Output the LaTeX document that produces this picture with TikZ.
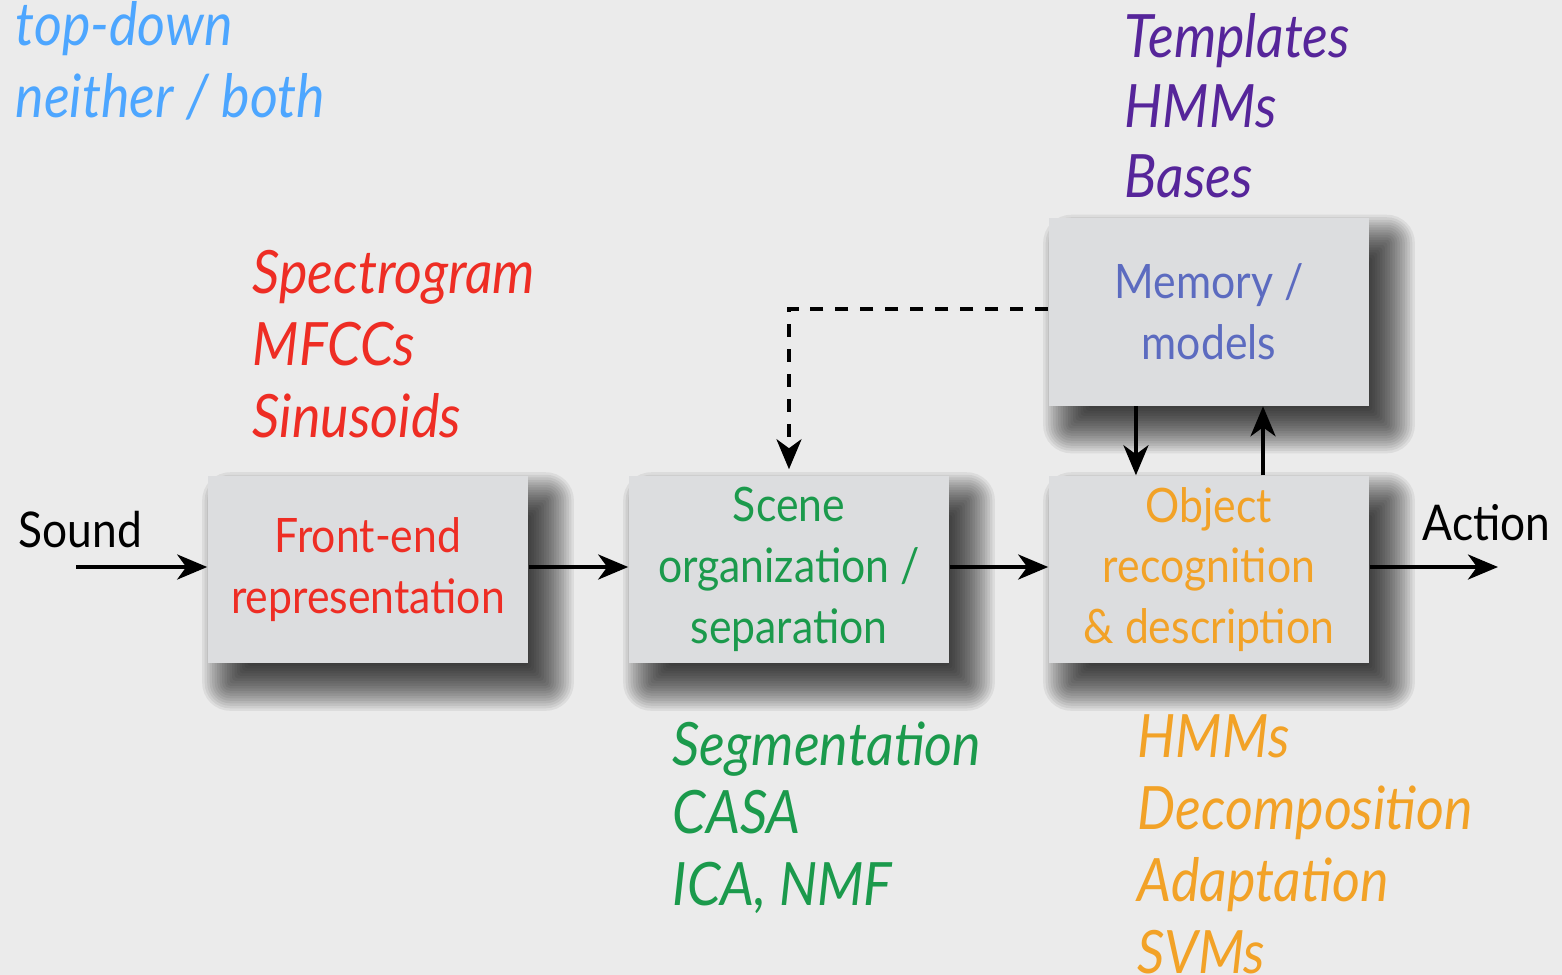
\documentclass[tikz,border=0pt]{standalone}
\usepackage{fontspec}
\setmainfont{Lato}[FakeStretch=0.9]
\usetikzlibrary{arrows.meta,backgrounds}
\definecolor{bggray}{HTML}{EBEBEB}
\definecolor{boxgray}{HTML}{DCDDDF}
\definecolor{frontred}{HTML}{EE2D24}
\definecolor{scenegreen}{HTML}{1B9A4C}
\definecolor{objorange}{HTML}{F2A227}
\definecolor{memblue}{HTML}{5C6BC0}
\definecolor{modpurple}{HTML}{56259A}
\definecolor{topblue}{HTML}{4DA6FF}
\newcommand{\blockShadow}[1]{
  \foreach \d [evaluate=\d as \nd using -\d, evaluate=\d as \rc using {max(\d,0)+0.03}] in {0.25,0.225,...,-0.26}
    \fill[black,opacity=0.062,rounded corners=\rc cm]
      ([xshift=0.2cm,yshift=-0.22cm,xshift=\nd cm,yshift=\d cm]#1.north west) rectangle
      ([xshift=0.2cm,yshift=-0.22cm,xshift=\d cm,yshift=\nd cm]#1.south east);
}

\begin{document}
\begin{tikzpicture}[x=0.01cm,y=-0.01cm,
  block/.style={fill=boxgray,rectangle,inner sep=0pt,minimum width=3.2cm,minimum height=1.87cm,
    align=center,font=\fontsize{13.5}{17.3}\selectfont},
  arr/.style={draw,line width=1.1pt,-{Stealth[length=0.3cm,width=0.25cm,inset=0.09cm]}},
  lst/.style={anchor=base west,inner sep=0pt,font=\fontsize{17}{20}\selectfont\itshape}]

  \useasboundingbox (0,0) rectangle (1562,975);

  %blocks
  \node[block,text=frontred]   (fe)    at (368,569.5)  {Front-end\\representation};
  \node[block,text=scenegreen] (scene) at (789,569.5)  {Scene\\organization /\\separation};
  \node[block,text=objorange]  (obj)   at (1209,569.5) {Object\\recognition\\\& description};
  \node[block,text=memblue]    (mem)   at (1209,312)   {Memory /\\models};

  %shadows
  \begin{pgfonlayer}{background}
    \fill[bggray] (0,0) rectangle (1562,975);
    \blockShadow{fe}
    \blockShadow{scene}
    \blockShadow{obj}
    \blockShadow{mem}
  \end{pgfonlayer}

  %in and out
  \node[anchor=base west,inner sep=0pt,font=\fontsize{14}{17}\selectfont] (snd) at (18,547) {Sound};
  \node[anchor=base west,inner sep=0pt,font=\fontsize{14}{17}\selectfont] (act) at (1422,540) {Action};
  \coordinate (in)  at (76,567);
  \coordinate (out) at (1498,567);

  %arrows
  \path[arr] (in) -- (fe.west |- in);
  \path[arr] (fe.east |- in) -- (scene.west |- in);
  \path[arr] (scene.east |- in) -- (obj.west |- in);
  \path[arr] (obj.east |- in) -- (out);
  \path[arr] ([xshift=-0.73cm]mem.south) -- ([xshift=-0.73cm]obj.north);
  \path[arr] ([xshift=0.54cm]obj.north) -- ([xshift=0.54cm]mem.south);
  \path[arr,dash pattern=on 3.7pt off 3.4pt,shorten >=0.06cm] ([yshift=0.03cm]mem.west) -| (scene.north);

  %legend
  \node[lst,text=topblue] (td) at (15,45)  {top-down};
  \node[lst,text=topblue] (nb) at (15,117) {neither / both};

  %representations
  \node[lst,text=frontred] (r1) at (252,293) {Spectrogram};
  \node[lst,text=frontred] (r2) at (252,365) {MFCCs};
  \node[lst,text=frontred] (r3) at (252,437) {Sinusoids};

  %models
  \node[lst,text=modpurple] (m1) at (1124,57)  {Templates};
  \node[lst,text=modpurple] (m2) at (1124,127) {HMMs};
  \node[lst,text=modpurple] (m3) at (1124,197) {Bases};

  %separation
  \node[lst,text=scenegreen] (s1) at (672,765) {Segmentation};
  \node[lst,text=scenegreen] (s2) at (672,833) {CASA};
  \node[lst,text=scenegreen] (s3) at (672,905) {ICA, NMF};

  %recognition
  \node[lst,text=objorange] (o1) at (1137,757) {HMMs};
  \node[lst,text=objorange] (o2) at (1137,829) {Decomposition};
  \node[lst,text=objorange] (o3) at (1137,901) {Adaptation};
  \node[lst,text=objorange] (o4) at (1137,973) {SVMs};

\end{tikzpicture}
\end{document}
